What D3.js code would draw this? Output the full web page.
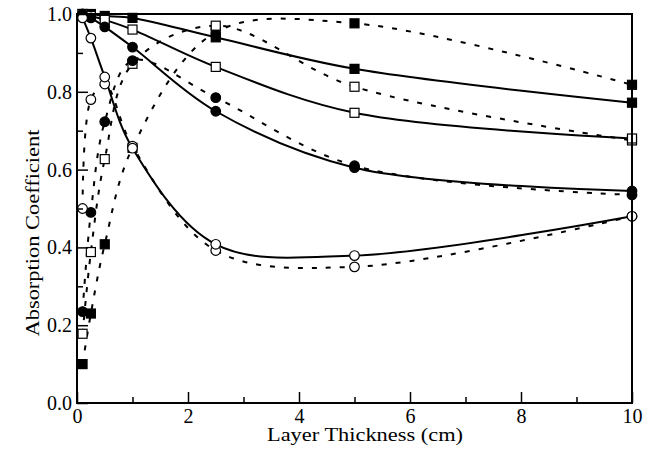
<!DOCTYPE html>
<html>
<head>
<meta charset="utf-8">
<script src="https://cdn.jsdelivr.net/npm/d3@7"></script>
<style>
    body { margin: 0; background: #fff; }
</style>
</head>
<body>
<svg id="chart"></svg>
<script>
// layer thickness values (cm)
const thickness = [0.1, 0.25, 0.5, 1, 2.5, 5, 10];

// absorption coefficient
const filledSquareSolid = [1.0, 1.0, 0.995, 0.99, 0.94, 0.859, 0.772];
const filledSquareDashed = [0.1, 0.23, 0.408, 0.656, 0.953, 0.976, 0.818];
const openSquareSolid = [1.0, 0.995, 0.985, 0.96, 0.864, 0.746, 0.68];
const openSquareDashed = [0.178, 0.388, 0.627, 0.872, 0.97, 0.813, 0.675];
const filledCircleSolid = [1.0, 0.99, 0.967, 0.915, 0.75, 0.605, 0.545];
const filledCircleDashed = [0.235, 0.49, 0.723, 0.88, 0.785, 0.61, 0.535];
const openCircleSolid = [0.99, 0.938, 0.838, 0.655, 0.408, 0.379, 0.48];
const openCircleDashed = [0.5, 0.78, 0.82, 0.66, 0.392, 0.35, 0.48];

const xTicks = [0, 2, 4, 6, 8, 10];
const yTicks = [0.0, 0.2, 0.4, 0.6, 0.8, 1.0];

const series = [
    {values: filledSquareDashed, marker: 'square', filled: true, dashed: true},
    {values: openSquareDashed, marker: 'square', filled: false, dashed: true},
    {values: filledCircleDashed, marker: 'circle', filled: true, dashed: true},
    {values: openCircleDashed, marker: 'circle', filled: false, dashed: true},
    {values: filledSquareSolid, marker: 'square', filled: true, dashed: false},
    {values: openSquareSolid, marker: 'square', filled: false, dashed: false},
    {values: filledCircleSolid, marker: 'circle', filled: true, dashed: false},
    {values: openCircleSolid, marker: 'circle', filled: false, dashed: false}
];

const FONT = 'Liberation Serif';

const margin = {top: 14, right: 18, bottom: 50, left: 77};
const width = 650 - margin.left - margin.right;
const height = 453 - margin.top - margin.bottom;

const svg = d3.select('#chart')
    .attr('width', 650)
    .attr('height', 453)
    .append('g')
    .attr('transform', `translate(${margin.left},${margin.top})`);

const x = d3.scaleLinear().domain([0, 10]).range([0, width]);
const y = d3.scaleLinear().domain([0, 1]).range([height, 0]);

// curves
const line = d3.line()
    .x(d => x(d[0]))
    .y(d => y(d[1]))
    .curve(d3.curveCatmullRom.alpha(0.5));

series.forEach(s => {
    const pts = thickness.map((t, i) => [t, s.values[i]]);
    svg.append('path')
        .datum(pts)
        .attr('fill', 'none')
        .attr('stroke', '#000')
        .attr('stroke-width', 2)
        .attr('stroke-dasharray', s.dashed ? '5,9' : null)
        .attr('d', line);
});

// markers
series.forEach(s => {
    const pts = thickness.map((t, i) => [t, s.values[i]]);
    const g = svg.append('g');
    if (s.marker === 'square') {
        g.selectAll('rect')
            .data(pts)
            .enter()
            .append('rect')
            .attr('x', d => x(d[0]) - 4.5)
            .attr('y', d => y(d[1]) - 4.5)
            .attr('width', 9)
            .attr('height', 9)
            .attr('fill', s.filled ? '#000' : '#fff')
            .attr('stroke', '#000')
            .attr('stroke-width', 1.2);
    } else {
        g.selectAll('circle')
            .data(pts)
            .enter()
            .append('circle')
            .attr('cx', d => x(d[0]))
            .attr('cy', d => y(d[1]))
            .attr('r', 4.8)
            .attr('fill', s.filled ? '#000' : '#fff')
            .attr('stroke', '#000')
            .attr('stroke-width', 1.2);
    }
});

// frame
svg.append('rect')
    .attr('x', 0)
    .attr('y', 0)
    .attr('width', width)
    .attr('height', height)
    .attr('fill', 'none')
    .attr('stroke', '#000')
    .attr('stroke-width', 2);

// X axis ticks (inward)
svg.append('g')
    .attr('transform', `translate(0,${height})`)
    .call(d3.axisBottom(x).tickValues(d3.range(1, 10, 2)).tickSize(-6).tickFormat(''))
    .call(g => g.select('.domain').remove())
    .call(g => g.selectAll('line').attr('stroke-width', 1.5));

svg.append('g')
    .attr('transform', `translate(0,${height})`)
    .call(d3.axisBottom(x).tickValues(xTicks).tickSize(-11).tickPadding(6).tickFormat(d3.format('d')))
    .call(g => g.select('.domain').remove())
    .call(g => g.selectAll('line').attr('stroke-width', 1.5))
    .call(g => g.selectAll('text')
        .attr('fill', '#000')
        .style('font-family', FONT)
        .style('font-size', '20px'));

// Y axis ticks (inward)
svg.append('g')
    .call(d3.axisLeft(y).tickValues(d3.range(0.1, 1, 0.2)).tickSize(-6).tickFormat(''))
    .call(g => g.select('.domain').remove())
    .call(g => g.selectAll('line').attr('stroke-width', 1.5));

svg.append('g')
    .call(d3.axisLeft(y).tickValues(yTicks).tickSize(-11).tickPadding(5).tickFormat(d3.format('.1f')))
    .call(g => g.select('.domain').remove())
    .call(g => g.selectAll('line').attr('stroke-width', 1.5))
    .call(g => g.selectAll('text')
        .attr('fill', '#000')
        .style('font-family', FONT)
        .style('font-size', '20px'));

// X axis label
svg.append('text')
    .style('font-family', FONT)
    .style('font-size', '18px')
    .attr('text-anchor', 'middle')
    .attr('x', 288)
    .attr('y', height + 38)
    .attr('textLength', 196)
    .attr('lengthAdjust', 'spacingAndGlyphs')
    .text('Layer Thickness (cm)');

// Y axis label
svg.append('text')
    .style('font-family', FONT)
    .style('font-size', '19px')
    .attr('text-anchor', 'middle')
    .attr('transform', 'rotate(-90)')
    .attr('x', -219)
    .attr('y', -38)
    .attr('textLength', 207)
    .attr('lengthAdjust', 'spacingAndGlyphs')
    .text('Absorption Coefficient');
</script>
</body>
</html>
